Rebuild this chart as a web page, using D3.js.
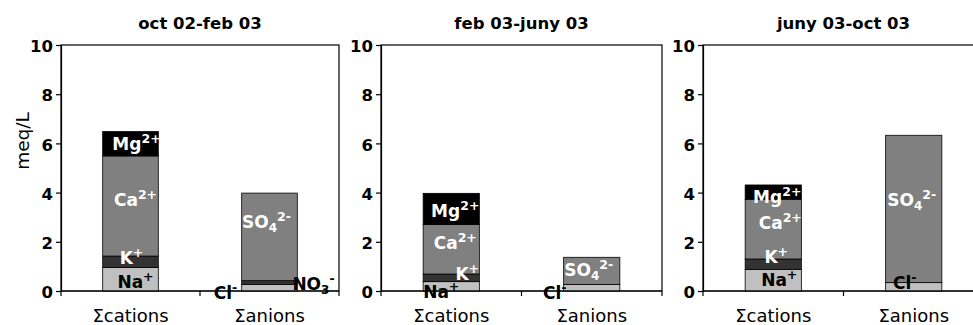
<!DOCTYPE html>
<html>
<head>
<meta charset="utf-8">
<script src="https://cdn.jsdelivr.net/npm/d3@7"></script>
<style>
  html, body { margin: 0; padding: 0; background: #fff; }
  svg { display: block; font-family: "DejaVu Sans", Verdana, sans-serif; }
</style>
</head>
<body>
<svg id="chart" width="973" height="325"></svg>
<script>
// Sampling periods (one panel each) and the two stacked columns
const periods = ["oct 02-feb 03", "feb 03-juny 03", "juny 03-oct 03"];
const categories = ["\u03A3cations", "\u03A3anions"];

// Cation equivalents, meq/L, per period
const na = [0.96, 0.38, 0.88];
const k  = [0.46, 0.31, 0.42];
const ca = [4.07, 2.02, 2.43];
const mg = [0.99, 1.26, 0.58];

// Anion equivalents, meq/L, per period
const cl  = [0.27, 0.27, 0.34];
const no3 = [0.15, 0.00, 0.00];
const so4 = [3.56, 1.10, 5.99];

const yTicks = [0, 2, 4, 6, 8, 10];

// Ion series: which column, stacking order, fill, label text and label colour
const ions = [
  { id: "na",  col: 0, values: na,  fill: "#c0c0c0", base: "Na", sub: "",  sup: "+",  ink: "#000" },
  { id: "k",   col: 0, values: k,   fill: "#333333", base: "K",  sub: "",  sup: "+",  ink: "#fff" },
  { id: "ca",  col: 0, values: ca,  fill: "#808080", base: "Ca", sub: "",  sup: "2+", ink: "#fff" },
  { id: "mg",  col: 0, values: mg,  fill: "#000000", base: "Mg", sub: "",  sup: "2+", ink: "#fff" },
  { id: "cl",  col: 1, values: cl,  fill: "#c0c0c0", base: "Cl", sub: "",  sup: "-",  ink: "#000" },
  { id: "no3", col: 1, values: no3, fill: "#333333", base: "NO", sub: "3", sup: "-",  ink: "#000" },
  { id: "so4", col: 1, values: so4, fill: "#808080", base: "SO", sub: "4", sup: "2-", ink: "#fff" }
];

// Panel geometry
const plotLeft = [61, 381, 703];
const plotWidth = [278, 281, 281];
const plotTop = 45, plotBottom = 291;

// Label placement relative to the middle of each segment [dx, dy] in px
const labelNudge = [
  { na: [5, 3],  k: [1, -4],  ca: [5, -6], mg: [6, 0],  cl: [-44, 5], no3: [44, 1], so4: [-3, -15] },
  { na: [-10, 6], k: [16, -4], ca: [4, -6], mg: [4, 2],  cl: [-37, 5], so4: [-3, -1] },
  { na: [6, 0],  k: [3, -7],  ca: [7, -6], mg: [4, 5],  cl: [-9, -4], so4: [-2, -9] }
];

const svg = d3.select("#chart");

const y = d3.scaleLinear().domain([0, 10]).range([plotBottom, plotTop]);

periods.forEach((title, p) => {
  const x0 = plotLeft[p], w = plotWidth[p];
  const x = d3.scaleBand().domain(categories).range([x0, x0 + w]).paddingInner(0.6).paddingOuter(0.3);
  const g = svg.append("g");

  // Stack each column's ions from zero upward
  const segs = [];
  [0, 1].forEach(col => {
    let acc = 0;
    ions.filter(s => s.col === col).forEach(s => {
      const v = s.values[p];
      segs.push({ ion: s, col, y0: acc, y1: acc + v, v });
      acc += v;
    });
  });

  // Plot frame
  g.append("rect")
    .attr("x", x0).attr("y", plotTop)
    .attr("width", w).attr("height", plotBottom - plotTop)
    .attr("fill", "none").attr("stroke", "#000").attr("stroke-width", 1.2);

  // Bars
  g.selectAll("rect.seg")
    .data(segs.filter(d => d.v > 0))
    .join("rect")
    .attr("class", "seg")
    .attr("x", d => x(categories[d.col]))
    .attr("width", x.bandwidth())
    .attr("y", d => y(d.y1))
    .attr("height", d => y(d.y0) - y(d.y1))
    .attr("fill", d => d.ion.fill)
    .attr("stroke", "#000")
    .attr("stroke-width", 0.8);

  // Y axis
  const yAxis = d3.axisLeft(y).tickValues(yTicks).tickSize(5).tickPadding(3);
  const ya = g.append("g").attr("transform", `translate(${x0},0)`).call(yAxis);
  ya.select(".domain").attr("stroke", "#000").attr("stroke-width", 1.2);
  ya.selectAll(".tick line").attr("stroke", "#000").attr("stroke-width", 1.2);
  ya.selectAll(".tick text")
    .attr("font-size", 16.5).attr("font-weight", "bold")
    .attr("font-family", "DejaVu Sans, Verdana, sans-serif")
    .attr("fill", "#000").attr("dy", "0.4em");

  // Category axis along zero
  g.append("line")
    .attr("x1", x0).attr("x2", x0 + w)
    .attr("y1", y(0)).attr("y2", y(0))
    .attr("stroke", "#000").attr("stroke-width", 1.2);
  [x0, x0 + w / 2, x0 + w].forEach(tx => {
    g.append("line")
      .attr("x1", tx).attr("x2", tx)
      .attr("y1", y(0)).attr("y2", y(0) + 5)
      .attr("stroke", "#000").attr("stroke-width", 1.2);
  });
  g.selectAll("text.cat")
    .data(categories)
    .join("text")
    .attr("class", "cat")
    .attr("x", d => x(d) + x.bandwidth() / 2)
    .attr("y", 322)
    .attr("text-anchor", "middle")
    .attr("font-size", 18)
    .text(d => d);

  // Panel title
  g.append("text")
    .attr("x", x0 + w / 2)
    .attr("y", 29)
    .attr("text-anchor", "middle")
    .attr("font-size", 16.5)
    .attr("font-weight", "bold")
    .text(title);

  // Ion labels
  segs.filter(d => d.v > 0).forEach(d => {
    const nudge = labelNudge[p][d.ion.id] || [0, 0];
    const cx = x(categories[d.col]) + x.bandwidth() / 2 + nudge[0];
    const cy = y((d.y0 + d.y1) / 2) + nudge[1];
    const t = g.append("text")
      .attr("x", cx)
      .attr("y", cy + 6)
      .attr("text-anchor", "middle")
      .attr("font-size", 17)
      .attr("font-weight", "bold")
      .attr("fill", d.ion.ink);
    t.append("tspan").text(d.ion.base);
    let shift = 0;
    if (d.ion.sub) {
      t.append("tspan").attr("font-size", 12).attr("dy", 4).text(d.ion.sub);
      shift = 4;
    }
    t.append("tspan").attr("font-size", 12.5).attr("dy", -7 - shift).text(d.ion.sup);
  });
});

// Y axis title
svg.append("text")
  .attr("transform", "translate(29,141) rotate(-90)")
  .attr("text-anchor", "middle")
  .attr("font-size", 18.5)
  .text("meq/L");
</script>
</body>
</html>
